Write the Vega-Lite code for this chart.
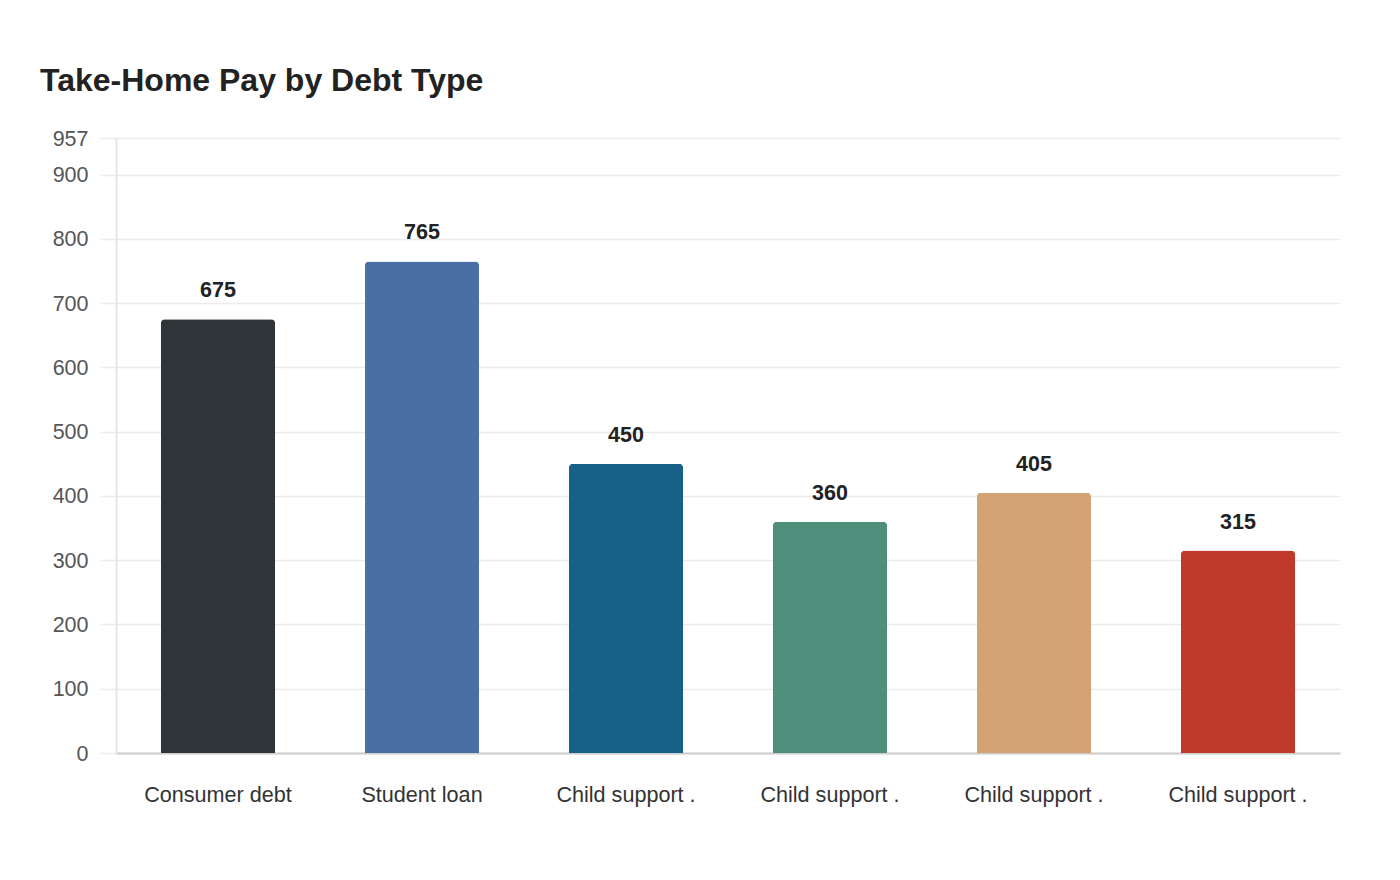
{
  "$schema": "https://vega.github.io/schema/vega-lite/v6.json",
  "width": 1224,
  "height": 615,
  "autosize": {"type": "none"},
  "padding": {"left": 116, "top": 138, "right": 60, "bottom": 127},
  "background": "#ffffff",
  "title": {
    "text": "Take-Home Pay by Debt Type",
    "anchor": "start",
    "frame": "group",
    "dx": -76,
    "offset": 30,
    "fontSize": 32,
    "fontWeight": "bold",
    "font": "Liberation Sans",
    "color": "#222222"
  },
  "config": {
    "view": {"stroke": null},
    "font": "Liberation Sans"
  },
  "data": {
    "values": [
      {"key": "Consumer debt|1", "debt": "Consumer debt", "pay": 675},
      {"key": "Student loan|2", "debt": "Student loan", "pay": 765},
      {"key": "Child support .|3", "debt": "Child support .", "pay": 450},
      {"key": "Child support .|4", "debt": "Child support .", "pay": 360},
      {"key": "Child support .|5", "debt": "Child support .", "pay": 405},
      {"key": "Child support .|6", "debt": "Child support .", "pay": 315}
    ]
  },
  "encoding": {
    "x": {
      "field": "key",
      "type": "nominal",
      "sort": null,
      "scale": {"paddingInner": 0.44, "paddingOuter": 0.22},
      "axis": {
        "title": null,
        "labelAngle": 0,
        "labelExpr": "split(datum.label, '|')[0]",
        "labelFontSize": 21.6,
        "labelColor": "#333333",
        "labelPadding": 31,
        "ticks": false,
        "domainColor": "#cccccc",
        "domainWidth": 2,
        "grid": false
      }
    },
    "y": {
      "field": "pay",
      "type": "quantitative",
      "scale": {"domain": [0, 957], "nice": false},
      "axis": {
        "title": null,
        "values": [0, 100, 200, 300, 400, 500, 600, 700, 800, 900, 957],
        "labelFontSize": 21.5,
        "labelColor": "#555555",
        "labelPadding": 12,
        "labelBaseline": "middle",
        "labelOffset": 1,
        "tickSize": 16,
        "tickColor": "#ebebeb",
        "tickWidth": 1.5,
        "gridColor": "#ebebeb",
        "gridWidth": 1.5,
        "domainColor": "#e5e5e5",
        "domainWidth": 2
      }
    }
  },
  "layer": [
    {
      "mark": {"type": "bar", "cornerRadiusTopLeft": 4, "cornerRadiusTopRight": 4},
      "encoding": {
        "color": {
          "field": "key",
          "type": "nominal",
          "sort": null,
          "scale": {"range": ["#2e3437", "#4a6fa5", "#176189", "#4e8e7b", "#d4a373", "#c0392b"]},
          "legend": null
        }
      }
    },
    {
      "mark": {"type": "text", "dy": -22, "baseline": "alphabetic", "fontSize": 21.5, "fontWeight": "bold", "color": "#222222"},
      "encoding": {
        "text": {"field": "pay", "type": "quantitative"}
      }
    }
  ]
}
